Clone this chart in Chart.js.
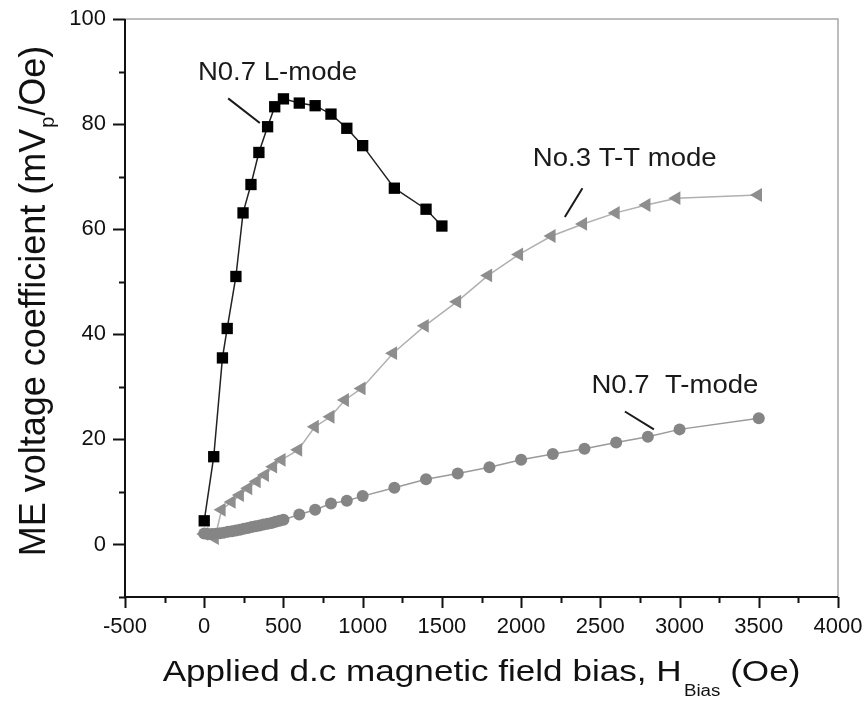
<!DOCTYPE html>
<html>
<head>
<meta charset="utf-8">
<script src="https://cdn.jsdelivr.net/npm/chart.js@4.4.0/dist/chart.umd.min.js"></script>
<style>
    html, body { margin: 0; padding: 0; background: #fff; }
    #wrap { width: 866px; height: 702px; }
</style>
</head>
<body>
<div id="wrap"><canvas id="chart" width="866" height="702"></canvas></div>
<script>
// ---- datos ----
const lModeX = [0, 60, 115, 145, 200, 245, 295, 345, 400, 445, 500, 600, 700, 800, 900, 1000, 1200, 1400, 1500];
const lModeY = [4.5, 16.7, 35.5, 41.1, 51.0, 63.1, 68.5, 74.6, 79.5, 83.3, 84.8, 84.0, 83.5, 81.9, 79.2, 75.9, 67.8, 63.8, 60.6];

const ttModeX = [0, 67, 110, 173, 225, 278, 331, 383, 435, 488, 593, 698, 797, 888, 993, 1192, 1392, 1596, 1792, 1987, 2192, 2391, 2597, 2791, 2980, 3495];
const ttModeY = [2.0, 1.2, 6.6, 8.1, 9.4, 10.7, 12.0, 13.2, 14.8, 16.1, 18.0, 22.4, 24.3, 27.5, 29.7, 36.4, 41.6, 46.2, 51.2, 55.2, 58.7, 61.0, 63.1, 64.6, 65.9, 66.5];

const tModeX = [0, 25, 50, 75, 100, 125, 150, 175, 200, 225, 250, 275, 300, 325, 350, 375, 400, 425, 450, 475, 500,
                600, 700, 800, 900, 1000, 1200, 1400, 1600, 1800, 2000, 2200, 2400, 2600, 2800, 3000, 3500];
const tModeY = [2.1, 2.0, 2.0, 2.05, 2.15, 2.25, 2.4, 2.5, 2.65, 2.8, 3.0, 3.15, 3.3, 3.45, 3.6, 3.8, 3.95, 4.1, 4.3, 4.5, 4.7,
                5.7, 6.6, 7.8, 8.3, 9.2, 10.8, 12.4, 13.5, 14.7, 16.1, 17.2, 18.2, 19.4, 20.5, 21.9, 24.0];

// etiquetas de las curvas (texto + línea guía, en coordenadas de datos)
const curveLabels = ['N0.7 L-mode', 'No.3 T-T mode', 'N0.7  T-mode'];
const labelAnchorX = [-40, 2074, 2444];
const labelAnchorY = [89.8, 73.4, 30.2];
const leaderFrom = [[151, 84.9], [2387, 67.8], [2655, 25.3]];
const leaderTo = [[351, 80.2], [2276, 62.3], [2838, 21.9]];

const FONT = "'Liberation Sans', Arial, Helvetica, sans-serif";

const toPoints = (xs, ys) => xs.map((x, i) => ({ x: x, y: ys[i] }));

// sin márgenes extra de las escalas: el área la fija layout.padding
const fixScale = (s, size) => {
    if (s.isHorizontal()) s.height = size; else s.width = size;
    s.paddingTop = 0;
    s.paddingBottom = 0;
    s.paddingLeft = 0;
    s.paddingRight = 0;
};

// Plugin: ejes tipo Origin, marcas, títulos y anotaciones
const originFrame = {
    id: 'originFrame',
    afterDraw(chart) {
        const ctx = chart.ctx;
        const a = chart.chartArea;
        const xs = chart.scales.x;
        const ys = chart.scales.y;
        ctx.save();

        // marco superior y derecho en gris
        ctx.strokeStyle = '#a8a8a8';
        ctx.lineWidth = 1.5;
        ctx.beginPath();
        ctx.moveTo(a.left, a.top);
        ctx.lineTo(a.right, a.top);
        ctx.lineTo(a.right, a.bottom);
        ctx.stroke();

        // ejes izquierdo e inferior
        ctx.strokeStyle = '#111';
        ctx.lineWidth = 2;
        ctx.beginPath();
        ctx.moveTo(a.left, a.top);
        ctx.lineTo(a.left, a.bottom);
        ctx.lineTo(a.right, a.bottom);
        ctx.stroke();

        // marcas
        ctx.lineWidth = 2;
        ctx.beginPath();
        xs.ticks.forEach(t => {
            const px = Math.round(xs.getPixelForValue(t.value)) + 0.5;
            const len = t.value % 500 === 0 ? 11 : 6;
            ctx.moveTo(px, a.bottom);
            ctx.lineTo(px, a.bottom + len);
        });
        ys.ticks.forEach(t => {
            const py = Math.round(ys.getPixelForValue(t.value)) + 0.5;
            const len = t.value % 20 === 0 ? 12 : 6;
            ctx.moveTo(a.left, py);
            ctx.lineTo(a.left - len, py);
        });
        ctx.stroke();

        // título eje X con subíndice
        ctx.fillStyle = '#111';
        ctx.textBaseline = 'alphabetic';
        ctx.textAlign = 'left';
        const stretch = 1.17;
        const mainFont = '30px ' + FONT;
        const subFont = '16px ' + FONT;
        const p1 = 'Applied d.c magnetic field bias, H';
        const p2 = 'Bias';
        const p3 = ' (Oe)';
        ctx.font = mainFont;
        const w1 = ctx.measureText(p1).width;
        const w3 = ctx.measureText(p3).width;
        ctx.font = subFont;
        const w2 = ctx.measureText(p2).width + 2;
        const total = (w1 + w2 + w3) * stretch;
        const cx = (a.left + a.right) / 2;
        ctx.save();
        ctx.translate(cx - total / 2, 681);
        ctx.scale(stretch, 1);
        ctx.font = mainFont;
        ctx.fillText(p1, 0, 0);
        ctx.font = subFont;
        ctx.fillText(p2, w1 + 2, 15);
        ctx.font = mainFont;
        ctx.fillText(p3, w1 + w2, 0);
        ctx.restore();

        // título eje Y con subíndice
        const yFont = '36px ' + FONT;
        const ySub = '20px ' + FONT;
        const q1 = 'ME voltage coefficient (mV';
        const q2 = 'p';
        const q3 = '/Oe)';
        ctx.font = yFont;
        const v1 = ctx.measureText(q1).width;
        const v3 = ctx.measureText(q3).width;
        ctx.font = ySub;
        const v2 = ctx.measureText(q2).width + 2;
        const ytot = v1 + v2 + v3;
        const cy = (a.top + a.bottom) / 2 - 7;
        ctx.save();
        ctx.translate(45, cy + ytot / 2);
        ctx.rotate(-Math.PI / 2);
        ctx.font = yFont;
        ctx.fillText(q1, 0, 0);
        ctx.font = ySub;
        ctx.fillText(q2, v1 + 1, 9);
        ctx.font = yFont;
        ctx.fillText(q3, v1 + v2, 0);
        ctx.restore();

        // anotaciones
        ctx.fillStyle = '#1a1a1a';
        ctx.strokeStyle = '#1a1a1a';
        ctx.lineWidth = 2;
        ctx.textBaseline = 'middle';
        curveLabels.forEach((txt, i) => {
            const tx = xs.getPixelForValue(labelAnchorX[i]);
            const ty = ys.getPixelForValue(labelAnchorY[i]);
            ctx.save();
            ctx.translate(tx, ty);
            ctx.scale(1.06, 1);
            ctx.font = '26px ' + FONT;
            ctx.fillText(txt, 0, 0);
            ctx.restore();
            ctx.beginPath();
            ctx.moveTo(xs.getPixelForValue(leaderFrom[i][0]), ys.getPixelForValue(leaderFrom[i][1]));
            ctx.lineTo(xs.getPixelForValue(leaderTo[i][0]), ys.getPixelForValue(leaderTo[i][1]));
            ctx.stroke();
        });

        ctx.restore();
    }
};

new Chart(document.getElementById('chart'), {
    type: 'scatter',
    data: {
        datasets: [
            {
                label: 'N0.7 L-mode',
                data: toPoints(lModeX, lModeY),
                showLine: true,
                borderColor: '#222',
                borderWidth: 1.5,
                pointStyle: 'rect',
                pointRadius: 8,
                pointBackgroundColor: '#000',
                pointBorderWidth: 0,
                order: 0
            },
            {
                label: 'N0.7 T-mode',
                data: toPoints(tModeX, tModeY),
                showLine: true,
                borderColor: '#9a9a9a',
                borderWidth: 1.5,
                pointStyle: 'circle',
                pointRadius: 6,
                pointBackgroundColor: '#858585',
                pointBorderWidth: 0,
                order: 1
            },
            {
                label: 'No.3 T-T mode',
                data: toPoints(ttModeX, ttModeY),
                showLine: true,
                borderColor: '#b0b0b0',
                borderWidth: 1.5,
                pointStyle: 'triangle',
                pointRotation: -90,
                pointRadius: 8,
                pointBackgroundColor: '#8e8e8e',
                pointBorderWidth: 0,
                order: 2
            }
        ]
    },
    options: {
        responsive: false,
        animation: false,
        layout: { padding: { top: 19, right: 28, left: 0, bottom: 0 } },
        plugins: {
            legend: { display: false },
            tooltip: { enabled: false }
        },
        scales: {
            x: {
                type: 'linear',
                min: -500,
                max: 4000,
                grid: { display: false, drawTicks: false },
                border: { display: false },
                ticks: {
                    stepSize: 250,
                    autoSkip: false,
                    maxRotation: 0,
                    padding: 17,
                    color: '#111',
                    font: { family: FONT, size: 22 },
                    callback: v => (v % 500 === 0 ? String(v) : '')
                },
                afterFit: s => fixScale(s, 105)
            },
            y: {
                type: 'linear',
                min: -10,
                max: 100,
                grid: { display: false, drawTicks: false },
                border: { display: false },
                ticks: {
                    stepSize: 10,
                    autoSkip: false,
                    padding: 19,
                    color: '#111',
                    font: { family: FONT, size: 22 },
                    callback: v => (v % 20 === 0 ? String(v) : '')
                },
                afterFit: s => fixScale(s, 125)
            }
        }
    },
    plugins: [originFrame]
});
</script>
</body>
</html>
